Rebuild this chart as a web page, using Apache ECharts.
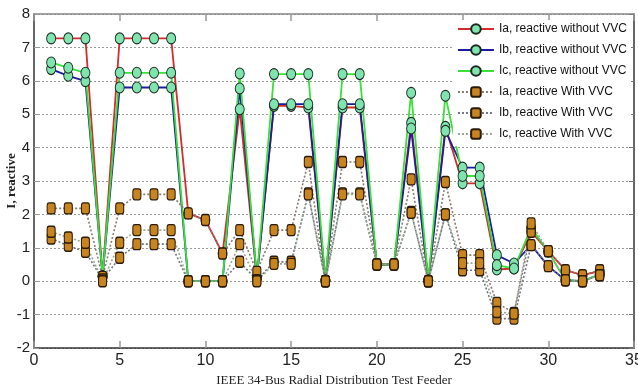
<html>
<head>
<meta charset="utf-8">
<script src="https://cdn.jsdelivr.net/npm/echarts@6/dist/echarts.min.js"></script>
<style>
  html, body { margin: 0; padding: 0; background: #fff; }
  #main { width: 638px; height: 388px; }
</style>
</head>
<body>
<div id="main"></div>
<script>
// bus numbers along the feeder
const buses = [1, 2, 3, 4, 5, 6, 7, 8, 9, 10, 11, 12, 13, 14, 15, 16, 17, 18, 19, 20, 21, 22, 23, 24, 25, 26, 27, 28, 29, 30, 31, 32, 33];

// reactive current without VVC
const iaWithout = [7.27, 7.27, 7.27, 0.15, 7.27, 7.27, 7.27, 7.27, 2.03, 1.83, 0.83, 5.15, 0.1, 5.25, 5.25, 5.2, 0.02, 5.2, 5.2, 0.5, 0.5, 4.74, 0.02, 4.62, 2.93, 2.93, 0.35, 0.38, 1.48, 0.9, 0.33, 0.18, 0.3];
const ibWithout = [6.35, 6.15, 5.99, 0.15, 5.8, 5.8, 5.8, 5.8, 0, 0, 0, 5.77, 0.1, 5.3, 5.3, 5.3, 0.02, 5.3, 5.3, 0.5, 0.5, 4.57, 0.02, 4.5, 3.4, 3.4, 0.78, 0.53, 1.08, 0.45, 0.03, 0, 0.2];
const icWithout = [6.55, 6.39, 6.24, 0.15, 6.24, 6.24, 6.24, 6.24, 0, 0, 0, 6.22, 0.1, 6.2, 6.2, 6.2, 0.02, 6.2, 6.2, 0.5, 0.5, 5.64, 0.02, 5.55, 3.15, 3.15, 0.48, 0.38, 1.6, 0.88, 0.03, 0, 0.2];

// reactive current with VVC
const iaWith = [2.18, 2.18, 2.18, 0.13, 2.18, 2.6, 2.6, 2.6, 2.03, 1.83, 0.83, 1.53, 0.28, 1.53, 1.53, 3.57, 0, 3.57, 3.57, 0.5, 0.5, 3.05, 0, 2.97, 0.78, 0.78, -0.65, -0.95, 1.48, 0.9, 0.33, 0.18, 0.33];
const ibWith = [1.28, 1.06, 0.88, 0.05, 0.7, 1.11, 1.11, 1.11, 0, 0, 0, 0.58, 0.03, 0.58, 0.58, 2.63, 0, 2.63, 2.63, 0.5, 0.5, 2.07, 0, 2.0, 0.33, 0.33, -1.12, -1.12, 1.08, 0.45, 0.03, 0, 0.18];
const icWith = [1.48, 1.31, 1.15, 0, 1.15, 1.53, 1.53, 1.53, 0, 0, 0, 1.11, 0, 0.52, 0.52, 2.6, 0, 2.6, 2.6, 0.5, 0.5, 2.05, 0, 2.0, 0.54, 0.54, -0.92, -0.97, 1.73, 0.9, 0.03, 0, 0.18];

const xTicks = { min: 0, max: 35, interval: 5 };
const yTicks = { min: -2, max: 8, interval: 1 };

const pairs = (vals) => buses.map((b, i) => [b, vals[i]]);

const narrow = '"Liberation Sans Narrow", "Liberation Sans", Arial, sans-serif';
const serif = '"Liberation Serif", "Times New Roman", serif';

const withoutSeries = (name, color, vals) => ({
    name: name,
    type: 'line',
    data: pairs(vals),
    symbol: 'circle',
    symbolSize: [9, 11],
    lineStyle: { color: color, width: 1.8 },
    itemStyle: { color: '#7fe4ae', borderColor: '#1a2a20', borderWidth: 1 },
    emphasis: { disabled: true }
});

const withSeries = (name, color, vals) => ({
    name: name,
    type: 'line',
    data: pairs(vals),
    symbol: 'roundRect',
    symbolSize: [8, 11],
    lineStyle: { color: color, width: 1.6, type: [2, 2] },
    itemStyle: { color: '#c8841f', borderColor: '#2a1a08', borderWidth: 1.2 },
    emphasis: { disabled: true }
});

const chart = echarts.init(document.getElementById('main'), null, { renderer: 'canvas' });
chart.setOption({
    animation: false,
    backgroundColor: '#fff',
    grid: { left: 34, right: 4, top: 14, bottom: 40, outerBoundsMode: 'none' },
    legend: {
        orient: 'vertical',
        right: 7,
        top: 20,
        itemWidth: 36,
        itemHeight: 12,
        itemGap: 9,
        padding: [3, 4, 6, 4],
        backgroundColor: '#fff',
        textStyle: { fontFamily: narrow, fontSize: 12, color: '#111' },
        data: ['Ia, reactive without VVC', 'Ib, reactive without VVC', 'Ic, reactive without VVC',
               'Ia, reactive With VVC', 'Ib, reactive With VVC', 'Ic, reactive With VVC']
    },
    xAxis: [{
        type: 'value',
        min: xTicks.min, max: xTicks.max, interval: xTicks.interval,
        position: 'bottom',
        name: 'IEEE 34-Bus Radial Distribution Test Feeder',
        nameLocation: 'middle',
        nameGap: 26,
        nameMoveOverlap: false,
        nameTextStyle: { fontFamily: serif, fontSize: 13, color: '#222' },
        axisLine: { onZero: false, lineStyle: { color: '#333', width: 1.5 } },
        axisTick: { inside: true, length: 7, lineStyle: { color: '#999', width: 1.5 } },
        axisLabel: { fontFamily: narrow, fontSize: 16, color: '#222', margin: 5 },
        splitLine: { show: false }
    }, {
        type: 'value',
        min: xTicks.min, max: xTicks.max, interval: xTicks.interval,
        position: 'top',
        axisLine: { onZero: false, lineStyle: { color: '#888', width: 1.5 } },
        axisTick: { inside: true, length: 7, lineStyle: { color: '#999', width: 1.5 } },
        axisLabel: { show: false },
        splitLine: { show: false }
    }],
    yAxis: [{
        type: 'value',
        min: yTicks.min, max: yTicks.max, interval: yTicks.interval,
        position: 'left',
        name: 'I, reactive',
        nameLocation: 'middle',
        nameGap: 16,
        nameMoveOverlap: false,
        nameRotate: 90,
        nameTextStyle: { fontFamily: serif, fontSize: 13, color: '#222', fontWeight: 'bold' },
        axisLine: { onZero: false, lineStyle: { color: '#333', width: 1.5 } },
        axisTick: { inside: true, length: 5, lineStyle: { color: '#999' } },
        axisLabel: { fontFamily: narrow, fontSize: 15, color: '#222', margin: 4 },
        splitLine: { lineStyle: { color: '#9a9a9a', type: [2, 2], width: 1 } }
    }, {
        type: 'value',
        min: yTicks.min, max: yTicks.max, interval: yTicks.interval,
        position: 'right',
        axisLine: { onZero: false, lineStyle: { color: '#333', width: 1.5 } },
        axisTick: { inside: true, length: 5, lineStyle: { color: '#777' } },
        axisLabel: { show: false },
        splitLine: { show: false }
    }],
    series: [
        withoutSeries('Ia, reactive without VVC', '#d42c2c', iaWithout),
        withoutSeries('Ib, reactive without VVC', '#1c1ca0', ibWithout),
        withoutSeries('Ic, reactive without VVC', '#38e038', icWithout),
        withSeries('Ia, reactive With VVC', '#8a7a70', iaWith),
        withSeries('Ib, reactive With VVC', '#6e7484', ibWith),
        withSeries('Ic, reactive With VVC', '#98a890', icWith)
    ]
});
</script>
</body>
</html>
